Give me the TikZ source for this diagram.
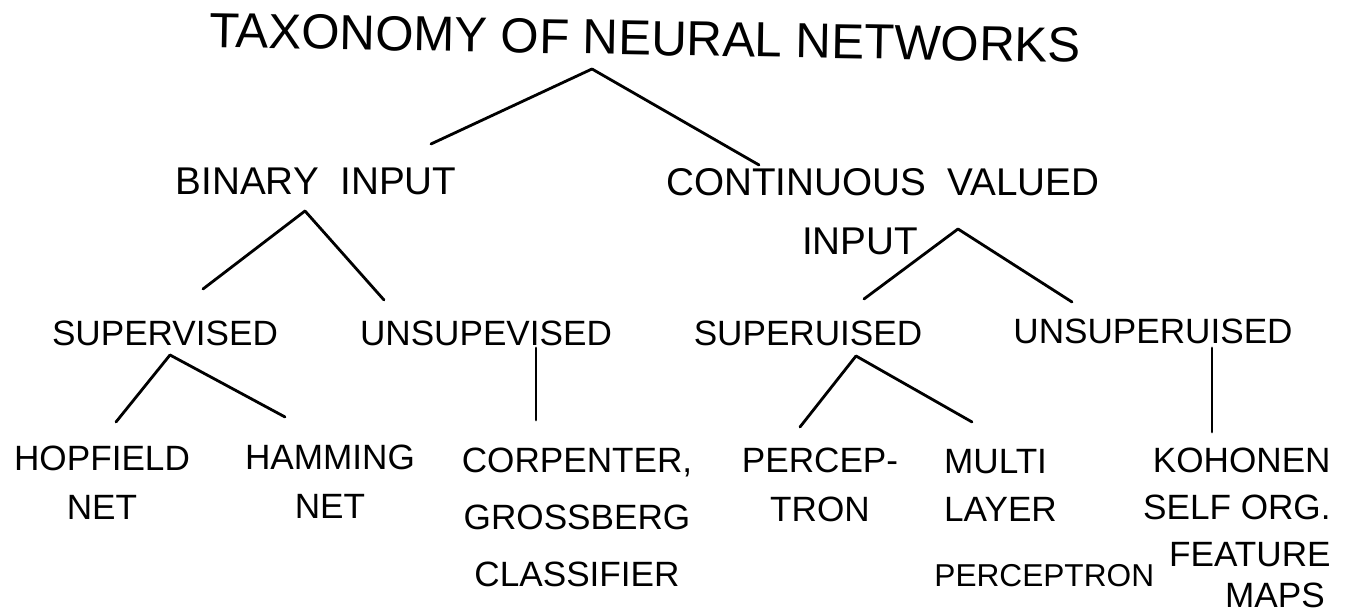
\documentclass[tikz,border=0pt]{standalone}
\usepackage{fontspec}
\setmainfont{Liberation Sans}
\usepackage{tikz}

\begin{document}
\begin{tikzpicture}[line width=0.8pt,line cap=round,
  every node/.style={inner sep=0pt,font=\fontsize{10}{13.7}\selectfont}]
  \useasboundingbox (0,0) rectangle (13.51,6.16);

  \node[font=\fontsize{14}{16}\selectfont,rotate=-1] (tax) at (6.45,5.78) {TAXONOMY OF NEURAL NETWORKS};

  \node[anchor=north,font=\fontsize{11}{14}\selectfont] (bin) at (3.16,4.49) {BINARY\ \ INPUT};
  \node[anchor=north,font=\fontsize{11}{14}\selectfont] (cont) at (8.83,4.49) {CONTINUOUS\ \ VALUED};
  \node[anchor=north,font=\fontsize{11}{14}\selectfont] (cont2) at (8.60,3.89) {INPUT};

  \node[anchor=north] (sup) at (1.65,2.96) {SUPERVISED};
  \node[anchor=north] (uns) at (4.86,2.96) {UNSUPEVISED};
  \node[anchor=north] (sup2) at (8.08,2.96) {SUPERUISED};
  \node[anchor=north] (uns2) at (11.53,2.98) {UNSUPERUISED};

  \node[anchor=north,align=center] (hop) at (1.02,1.71) {HOPFIELD\\NET};
  \node[anchor=north,align=center] (ham) at (3.30,1.72) {HAMMING\\NET};
  \node[anchor=north,align=center] (cg) at (5.77,1.69) {CORPENTER,\\[2.5pt]GROSSBERG\\[2.5pt]CLASSIFIER};
  \node[anchor=north,align=center] (perc) at (8.20,1.69) {PERCEP-\\TRON};
  \node[anchor=north west,align=left] (mlp) at (9.33,1.68)
    {\ MULTI\\\ LAYER\\[4.8pt]{\fontsize{9}{11}\selectfont PERCEPTRON}};
  \node[anchor=north east,align=right,font=\fontsize{10}{13.3}\selectfont] (koh) at (13.32,1.69)
    {KOHONEN\\SELF ORG.\\FEATURE\\[-1.5pt]MAPS\,};

  % forks and line ends
  \coordinate (taxf) at (5.92,5.47);
  \coordinate (binl) at (4.31,4.72);
  \coordinate (contl) at (7.59,4.51);
  \coordinate (binf) at (3.05,4.05);
  \coordinate (supl) at (2.03,3.27);
  \coordinate (unsl) at (3.84,3.16);
  \coordinate (contf) at (9.58,3.87);
  \coordinate (sup2l) at (8.64,3.17);
  \coordinate (uns2l) at (10.72,3.14);
  \coordinate (supf) at (1.70,2.61);
  \coordinate (hopl) at (1.16,1.94);
  \coordinate (haml) at (2.85,1.99);
  \coordinate (unsf) at (5.36,2.68);
  \coordinate (cgl) at (5.36,1.96);
  \coordinate (sup2f) at (8.56,2.60);
  \coordinate (percl) at (8.00,1.89);
  \coordinate (mlpl) at (9.72,1.94);
  \coordinate (uns2f) at (12.12,2.68);
  \coordinate (kohl) at (12.12,1.84);

  \foreach \from/\to in {taxf/binl,taxf/contl,binf/supl,binf/unsl,contf/sup2l,contf/uns2l,
    supf/hopl,supf/haml,unsf/cgl,sup2f/percl,sup2f/mlpl,uns2f/kohl}
    \draw (\from) -- (\to);

\end{tikzpicture}
\end{document}
